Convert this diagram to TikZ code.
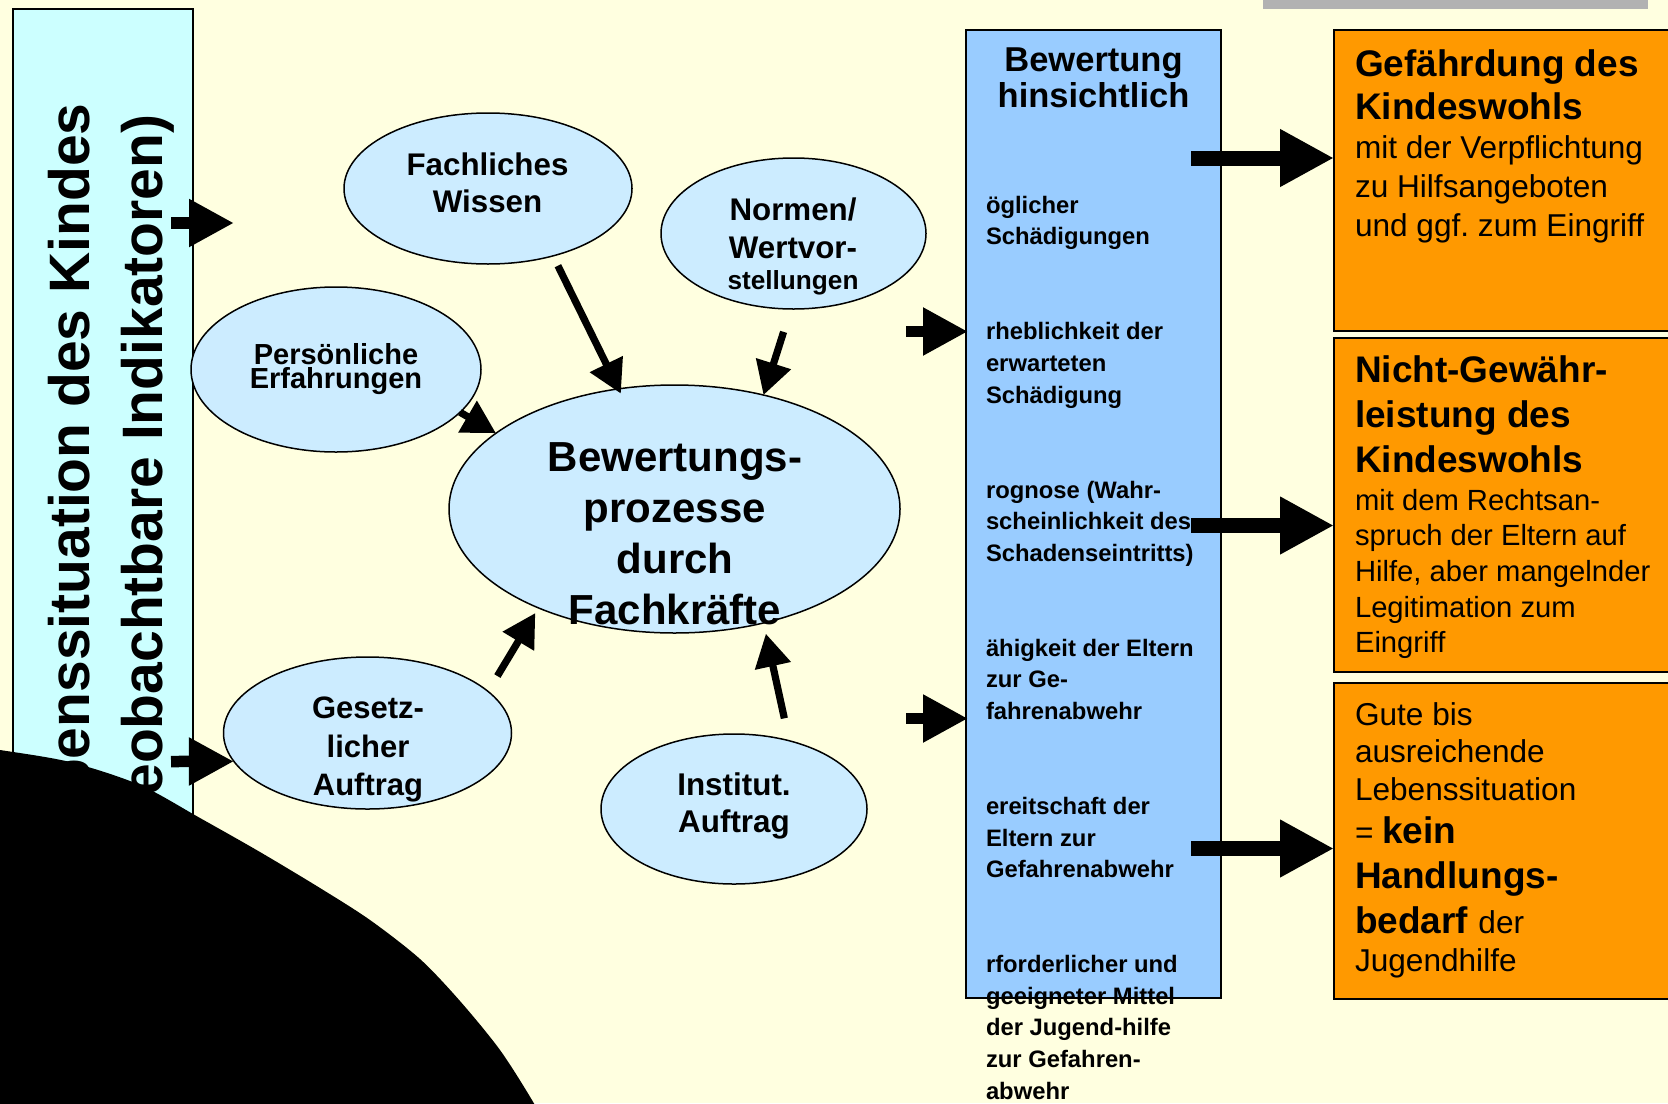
\documentclass[tikz,border=0pt]{standalone}
\usepackage{fontspec}
\setmainfont{Liberation Sans}
\usetikzlibrary{shapes.geometric,arrows.meta}
\definecolor{bgyel}{RGB}{255,255,224}
\definecolor{leftcyan}{RGB}{204,255,255}
\definecolor{ellblue}{RGB}{204,236,255}
\definecolor{bewblue}{RGB}{153,204,255}
\definecolor{orangebox}{RGB}{255,153,0}
\definecolor{greybar}{RGB}{178,178,178}
\newcommand\mytab[2]{\begin{tabular}[t]{@{}#1@{}}#2\end{tabular}}
\newcommand\myfs[2]{\fontsize{#1pt}{#2pt}\selectfont}
\frenchspacing
\begin{document}
\begin{tikzpicture}[x=0.5pt,y=-0.5pt,
  ell/.style={ellipse,draw=black,line width=0.75pt,fill=ellblue,inner sep=0pt,outer sep=0pt},
  txt/.style={inner sep=0pt,outer sep=0pt,text=black},
  thinarr/.style={line width=3.6pt,-{Triangle[length=16.5pt,width=17.5pt]}},
  blockarr/.style={line width=5.75pt,-{Triangle[length=22.5pt,width=22.5pt]}},
  bigarr/.style={line width=7.5pt,-{Triangle[length=27pt,width=27pt]}},
  box/.style={rectangle,draw=black,line width=1pt,inner sep=0pt,outer sep=0pt},
]
\useasboundingbox (0,0) rectangle (1668,1103);
\clip (0,0) rectangle (1668,1103);
\fill[bgyel] (0,0) rectangle (1668,1103);
\fill[greybar] (1263,0) rectangle (1648,9);

% left box
\node[box,fill=leftcyan,minimum width=90.25pt,minimum height=473.25pt] (lbox) at (102.75,481.75) {};
\node[txt,rotate=90,anchor=base,font=\bfseries\myfs{28.5}{36.5}] (ltext) at (89,482)
  {\mytab{c}{Lebenssituation des Kindes\\(beobachtbare Indikatoren)}};

% ellipses
\node[ell,minimum width=144pt,minimum height=75.5pt] (fach) at (488,188.5) {};
\node[ell,minimum width=145pt,minimum height=82.5pt] (pers) at (336,369.5) {};
\node[ell,minimum width=132.5pt,minimum height=75.5pt] (norm) at (793.5,233.5) {};
\node[ell,minimum width=225.5pt,minimum height=124pt] (bew) at (674.5,509) {};
\node[ell,minimum width=144pt,minimum height=76pt] (ges) at (367.5,733) {};
\node[ell,minimum width=133pt,minimum height=75pt] (inst) at (734,809) {};

\node[txt,anchor=base,font=\bfseries\myfs{15.65}{18.85}] (fachT) at (487.5,175) {\mytab{c}{Fachliches\\Wissen}};
\node[txt,anchor=base,font=\bfseries\myfs{14.5}{15.5}] (persT) at (336,364) {\mytab{c}{Persönliche\\[-3.5pt]Erfahrungen}};
\node[txt,anchor=base,font=\bfseries\myfs{15.65}{19}] (normT) at (793,220) {\mytab{c}{Normen/\\Wertvor-\\[-3.5pt]{\myfs{13.1}{15}stellungen}}};
\node[txt,anchor=base,font=\bfseries\myfs{21}{25.5}] (bewT) at (675,471.7) {\mytab{c}{Bewertungs-\\prozesse\\durch\\Fachkräfte}};
\node[txt,anchor=base,font=\bfseries\myfs{15.5}{19.25}] (gesT) at (368,718.5) {\mytab{c}{Gesetz-\\licher\\Auftrag}};
\node[txt,anchor=base,font=\bfseries\myfs{15.7}{18.5}] (instT) at (734,795.5) {\mytab{c}{Institut.\\Auftrag}};

% middle arrows
\draw[thinarr,shorten <=5.5pt,shorten >=-2.65pt] (fach.-46.5) -- (bew.115.8);
\draw[thinarr,shorten <=12pt] (norm.-92.4) -- (bew.52.2);
\draw[thinarr] (pers.-19.4) -- (bew.157.9);
\draw[thinarr,shorten <=9pt,shorten >=3pt] (ges.19.3) -- (bew.216.6);
\draw[thinarr,shorten <=11.5pt,shorten >=5.5pt] (inst.51.7) -- (bew.-52.7);

% left block arrows
\coordinate (la1s) at (171,223);
\coordinate (la1e) at (234,223);
\coordinate (la2s) at (171,761.5);
\draw[blockarr] (la1s) -- (la1e);
\draw[blockarr] (la2s) -- (ges.192);

% Bewertung box
\node[box,fill=bewblue,minimum width=127.5pt,minimum height=484pt] (bbox) at (1093.5,514) {};
\node[txt,anchor=base,font=\bfseries\myfs{17.25}{18.25}] (bboxT) at (1093.5,71) {\mytab{c}{Bewertung\\hinsichtlich}};
\node[txt,anchor=base west,font=\bfseries\myfs{11.9}{15.82}] (bboxL) at (986,213.3) {\mytab{l}{%
öglicher\\Schädigungen\\ \\ \\
rheblichkeit der\\erwarteten\\Schädigung\\ \\ \\
rognose (Wahr-\\scheinlichkeit des\\Schadenseintritts)\\ \\ \\
ähigkeit der Eltern\\zur Ge-\\fahrenabwehr\\ \\ \\
ereitschaft der\\Eltern zur\\Gefahrenabwehr\\ \\ \\
rforderlicher und\\geeigneter Mittel\\der Jugend-hilfe\\zur Gefahren-\\abwehr}};

\coordinate (ba1) at (906,331.5);
\coordinate (ba2) at (906,718.5);
\draw[blockarr,shorten >=-1pt] (ba1) -- (ba1 -| bbox.west);
\draw[blockarr,shorten >=-1pt] (ba2) -- (ba2 -| bbox.west);

% orange boxes
\node[box,fill=orangebox,minimum width=183pt,minimum height=150.5pt] (o1) at (1517,180.5) {};
\node[box,fill=orangebox,minimum width=183pt,minimum height=166.75pt] (o2) at (1517,504.75) {};
\node[box,fill=orangebox,minimum width=183pt,minimum height=158pt] (o3) at (1517,841) {};

\node[txt,anchor=base west,font=\bfseries\myfs{18.5}{21.85}] (o1a) at (1355,76) {\mytab{l}{Gefährdung des\\Kindeswohls}};
\node[txt,anchor=base west,font=\myfs{15.8}{19.45}] (o1b) at (1355,158.9) {\mytab{l}{mit der Verpflichtung\\zu Hilfsangeboten\\und ggf. zum Eingriff}};
\node[txt,anchor=base west,font=\bfseries\myfs{18.5}{22.4}] (o2a) at (1355,382.8) {\mytab{l}{Nicht-Gewähr-\\leistung des\\Kindeswohls}};
\node[txt,anchor=base west,font=\myfs{14.6}{17.8}] (o2b) at (1355,510.3) {\mytab{l}{mit dem Rechtsan-\\spruch der Eltern auf\\Hilfe, aber mangelnder\\Legitimation zum\\Eingriff}};
\node[txt,anchor=base west,font=\myfs{15.8}{18.75}] (o3a) at (1355,725) {\mytab{l}{Gute bis\\ausreichende\\Lebenssituation}};
\node[txt,anchor=base west,font=\myfs{18.5}{22.5}] (o3b) at (1355,843.3) {\mytab{l}{{\myfs{15.8}{18}= }\textbf{kein}\\\textbf{Handlungs-}\\\textbf{bedarf} {\myfs{15.8}{18}der}}};
\node[txt,anchor=base west,font=\myfs{15.8}{18.75}] (o3c) at (1355,971.7) {Jugendhilfe};

% right arrows
\coordinate (ra1) at (1191,158);
\coordinate (ra2) at (1191,525.5);
\coordinate (ra3) at (1191,848.5);
\draw[bigarr] (ra1) -- (ra1 -| o1.west);
\draw[bigarr] (ra2) -- (ra2 -| o2.west);
\draw[bigarr] (ra3) -- (ra3 -| o3.west);

% black shape
\fill[black] plot[smooth] coordinates {(-10,749) (0,750) (70,762) (140,785) (200,818) (260,852) (320,888) (370,920) (420,959) (460,1001) (500,1050) (532,1100) (545,1125)} -- (-10,1125) -- cycle;
\end{tikzpicture}
\end{document}
